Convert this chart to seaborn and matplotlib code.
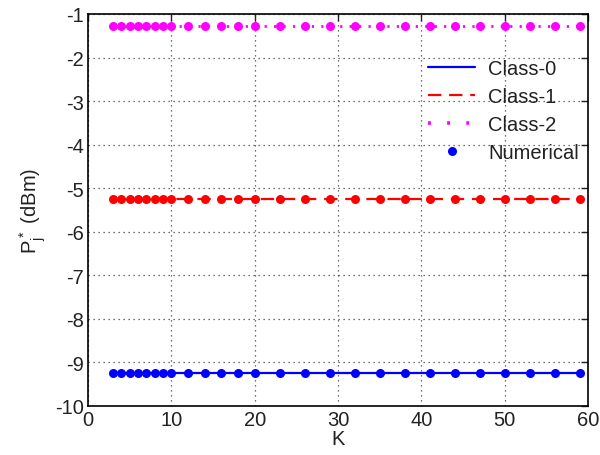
import matplotlib
matplotlib.use("Agg")
import matplotlib.pyplot as plt
import seaborn as sns
import pandas as pd
from matplotlib.lines import Line2D

K = [3, 4, 5, 6, 7, 8, 9, 10, 12, 14, 16, 18, 20, 23, 26, 29, 32, 35, 38, 41, 44, 47, 50, 53, 56, 59]
class0 = [-9.25] * len(K)
class1 = [-5.25] * len(K)
class2 = [-1.27] * len(K)
labels = ["Class-0", "Class-1", "Class-2", "Numerical"]
colors = ["#0000ff", "#ff0000", "#ff00ff"]

sns.set_theme(style="white")
plt.rcParams['font.family'] = ['Liberation Sans', 'DejaVu Sans']
plt.rcParams['axes.unicode_minus'] = False

FS = 14.5
fig = plt.figure(figsize=(6, 4.56), dpi=100)
ax = fig.add_axes([0.1467, 0.1075, 0.8333, 0.8597])

df = pd.DataFrame({"K": K, "c0": class0, "c1": class1, "c2": class2})
styles = [dict(linestyle="-"), dict(dashes=(6, 3.5)), dict(dashes=(0.8, 2.6))]
for col, c, st in zip(["c0", "c1", "c2"], colors, styles):
    sns.lineplot(data=df, x="K", y=col, ax=ax, color=c, lw=1.6 if col != "c2" else 2.0,
                 marker="o", markersize=6.5, markeredgewidth=0, markerfacecolor=c,
                 legend=False, **st)

ax.set_xlim(0, 60)
ax.set_ylim(-10, -1)
ax.set_xticks(range(0, 61, 10))
ax.set_yticks(range(-10, 0))
ax.tick_params(direction="in", length=5, width=1, top=True, right=True,
               labelsize=FS, colors="#222222", pad=3)
for s in ax.spines.values():
    s.set_color("#000000")
    s.set_linewidth(1.2)
ax.grid(True, linestyle=(0, (1, 3)), color="#444444", linewidth=0.9)
ax.set_xlabel("K", fontsize=FS, labelpad=0, color="#222222")
ax.set_ylabel(r"$\mathregular{P_j^*}$ (dBm)", fontsize=FS, labelpad=5, color="#222222")

handles = [
    Line2D([], [], color=colors[0], lw=1.6, linestyle="-"),
    Line2D([], [], color=colors[1], lw=1.6, dashes=(6, 3.5)),
    Line2D([], [], color=colors[2], lw=2.6, dashes=(0.8, 4.5)),
    Line2D([], [], color=colors[0], lw=0, marker="o", markersize=6.5, markeredgewidth=0),
]
leg = ax.legend(handles, labels, loc="upper left", bbox_to_anchor=(0.68, 0.885),
                frameon=False, fontsize=FS, handlelength=2.35, handletextpad=0.65,
                labelspacing=0.45, borderpad=0, borderaxespad=0)
for t in leg.get_texts():
    t.set_color("#222222")

fig.savefig("out.png", dpi=100)
